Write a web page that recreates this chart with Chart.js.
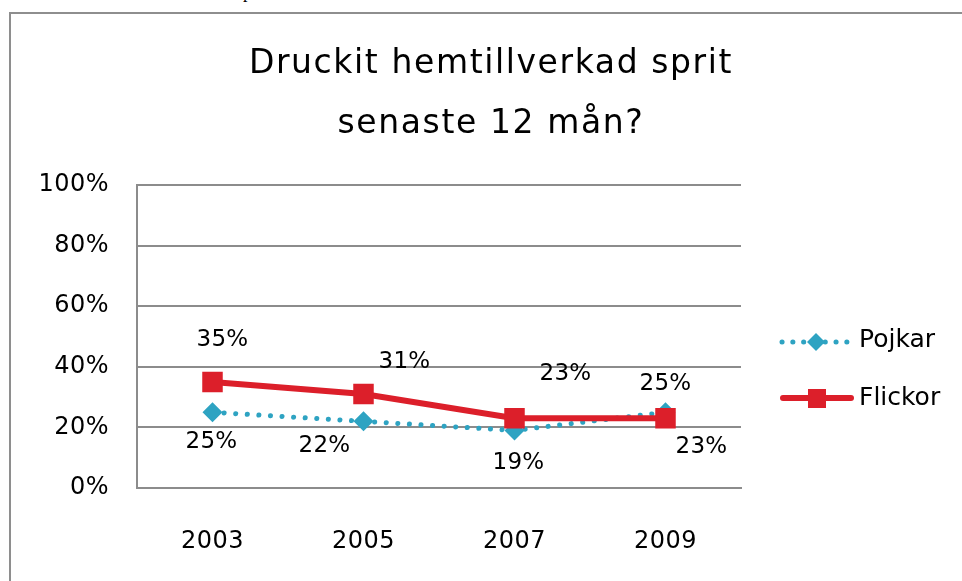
<!DOCTYPE html>
<html><head><meta charset="utf-8">
<script src="https://cdn.jsdelivr.net/npm/chart.js@4/dist/chart.umd.min.js"></script>
<style>
html,body{margin:0;padding:0;background:#fff;width:962px;height:581px;overflow:hidden;position:relative;}
#frame{position:absolute;left:9px;top:12px;width:1000px;height:700px;border-left:2px solid #8e8e8e;border-top:2px solid #8e8e8e;}
#wrap{position:absolute;left:0;top:0;width:962px;height:581px;}
#frag{position:absolute;left:243px;top:-17px;font:18px 'Liberation Serif',serif;line-height:18px;color:#000;}
</style></head>
<body>
<div id="frag">p</div>
<div id="frame"></div>
<div id="wrap"><canvas id="c" width="962" height="581"></canvas></div>
<script>
const categories = ['2003','2005','2007','2009'];
const pojkar = [25, 22, 19, 25];
const flickor = [35, 31, 23, 23];
const yTicks = [0, 20, 40, 60, 80, 100];
const titleLines = ['Druckit hemtillverkad sprit', 'senaste 12 mån?'];
const seriesNames = ['Pojkar', 'Flickor'];

const FONT = "'DejaVu Sans',sans-serif";
const TEAL = '#2ea3c2';
const RED = '#dc1f2a';

// label offsets (dx, dy) relative to point
const pojkarLabelOff = [[-1,30],[-39,25],[4,33],[0,-28]];
const flickorLabelOff = [[10,-42],[41,-32],[51,-44],[36,29]];

const extras = {
  id:'extras',
  beforeDraw(chart){
    chart.ctx.letterSpacing = '0.5px';
  },
  afterDatasetsDraw(chart){
    const ctx = chart.ctx;
    ctx.save();
    ctx.fillStyle = '#000';
    ctx.letterSpacing = '0.3px';
    ctx.font = "23px " + FONT;
    ctx.textAlign = 'center';
    ctx.textBaseline = 'middle';
    const offs = [pojkarLabelOff, flickorLabelOff];
    chart.data.datasets.forEach((ds, di) => {
      const meta = chart.getDatasetMeta(di);
      const off = offs[ds.idx];
      meta.data.forEach((pt, i) => {
        ctx.fillText(ds.data[i] + '%', pt.x + off[i][0], pt.y + off[i][1]);
      });
    });
    // title
    ctx.letterSpacing = '1.6px';
    ctx.textBaseline = 'alphabetic';
    ctx.font = "33px " + FONT;
    ctx.fillText(titleLines[0], 491, 73);
    ctx.fillText(titleLines[1], 491, 133);
    // legend
    ctx.letterSpacing = '0px';
    ctx.font = "25px " + FONT;
    ctx.textAlign = 'left';
    const ly = [342, 398];
    // Pojkar
    ctx.strokeStyle = TEAL; ctx.lineWidth = 5; ctx.lineCap = 'round';
    ctx.setLineDash([0.1, 10.7]);
    ctx.beginPath(); ctx.moveTo(782, ly[0]); ctx.lineTo(848, ly[0]); ctx.stroke();
    ctx.setLineDash([]);
    ctx.fillStyle = TEAL;
    ctx.beginPath(); ctx.moveTo(816, ly[0]-9); ctx.lineTo(825, ly[0]); ctx.lineTo(816, ly[0]+9); ctx.lineTo(807, ly[0]); ctx.closePath(); ctx.fill();
    // Flickor
    ctx.strokeStyle = RED; ctx.lineWidth = 6; ctx.lineCap = 'round';
    ctx.beginPath(); ctx.moveTo(783, ly[1]); ctx.lineTo(851, ly[1]); ctx.stroke();
    ctx.fillStyle = RED;
    ctx.fillRect(808, ly[1]-9, 18, 19);
    ctx.fillStyle = '#000';
    ctx.fillText(seriesNames[0], 859, 347);
    ctx.fillText(seriesNames[1], 859, 405);
    ctx.restore();
  }
};

new Chart(document.getElementById('c'), {
  type: 'line',
  data: {
    labels: categories,
    datasets: [
      { idx:0, label: seriesNames[0], data: pojkar, order: 1,
        borderColor: TEAL, backgroundColor: TEAL, borderWidth: 5,
        borderDash: [0.1, 11.5], borderCapStyle: 'round',
        pointStyle: 'rectRot', pointRadius: 10, pointBorderWidth: 0, tension: 0 },
      { idx:1, label: seriesNames[1], data: flickor, order: 0,
        borderColor: RED, backgroundColor: RED, borderWidth: 6,
        pointStyle: 'rect', pointRadius: 14.5, pointBorderWidth: 0, tension: 0 }
    ]
  },
  options: {
    responsive: false,
    animation: false,
    layout: { padding: { top: 185, right: 221, left: 0, bottom: 0 } },
    plugins: { legend: { display: false }, title: { display: false }, tooltip: { enabled: false } },
    scales: {
      x: {
        offset: true,
        grid: { display: false, drawTicks: false },
        border: { display: true, color: '#8c8c8c', width: 2 },
        ticks: { color: '#000', font: { family: FONT, size: 24 }, padding: 39, maxRotation: 0 },
        afterFit(s){ s.height = 93; }
      },
      y: {
        min: 0, max: 100,
        afterBuildTicks(s){ s.ticks = yTicks.map(v => ({value: v})); },
        grid: { color: '#8c8c8c', lineWidth: 2, drawTicks: false },
        border: { display: true, color: '#8c8c8c', width: 2 },
        ticks: { color: '#000', font: { family: FONT, size: 24 }, padding: 28, callback: v => v + '%' },
        afterFit(s){ s.width = 137; }
      }
    }
  },
  plugins: [extras]
});
</script>
</body></html>
